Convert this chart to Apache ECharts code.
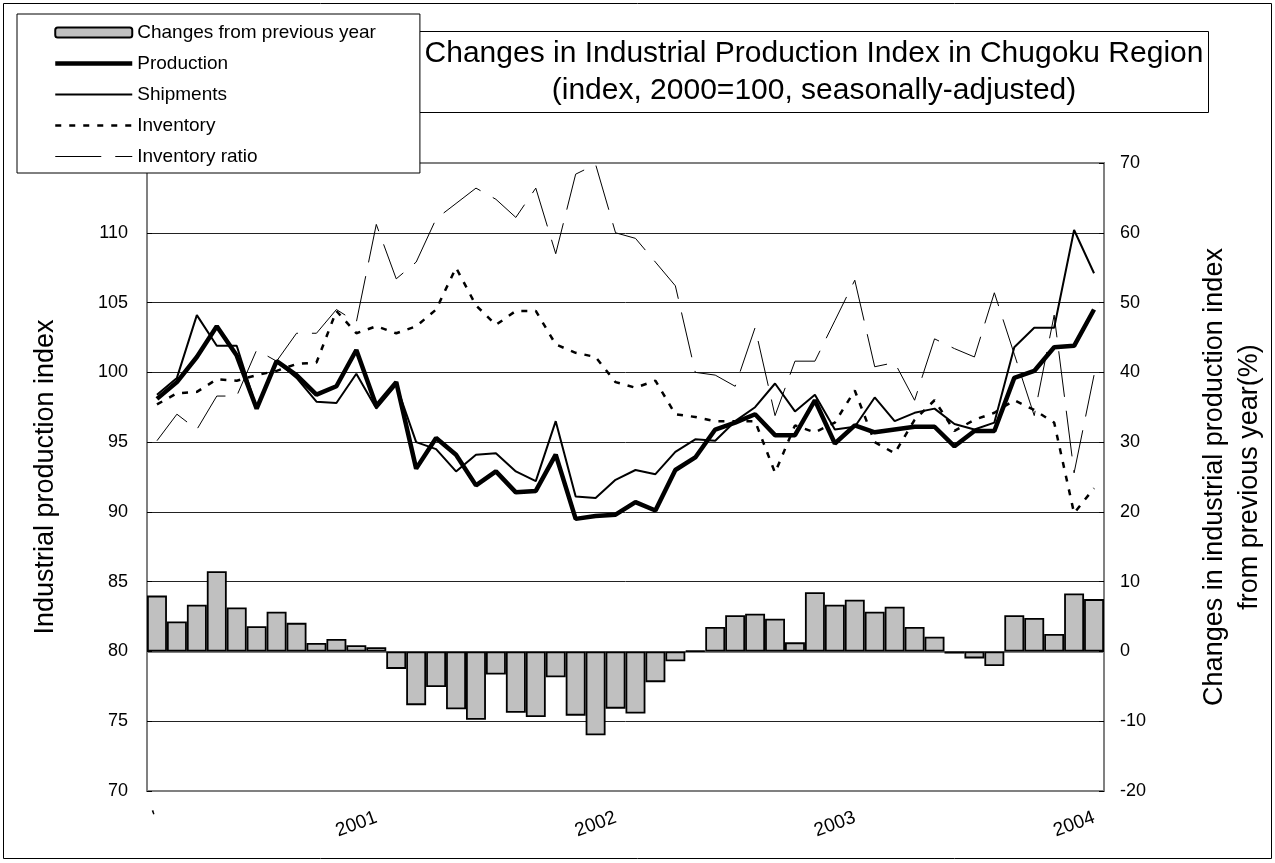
<!DOCTYPE html>
<html>
<head>
<meta charset="utf-8">
<title>Industrial Production Index in Chugoku Region</title>
<script src="https://cdn.jsdelivr.net/npm/echarts@6.0.0/dist/echarts.min.js"></script>
<style>
  html, body { margin: 0; padding: 0; background: #fff; }
  #chart { width: 1275px; height: 863px; }
</style>
</head>
<body>
<div id="chart"></div>
<script>
// monthly, Feb 2000 - Jan 2004
var months = [
  '2000-02','2000-03','2000-04','2000-05','2000-06','2000-07','2000-08','2000-09','2000-10','2000-11','2000-12','2001-01',
  '2001-02','2001-03','2001-04','2001-05','2001-06','2001-07','2001-08','2001-09','2001-10','2001-11','2001-12','2002-01',
  '2002-02','2002-03','2002-04','2002-05','2002-06','2002-07','2002-08','2002-09','2002-10','2002-11','2002-12','2003-01',
  '2003-02','2003-03','2003-04','2003-05','2003-06','2003-07','2003-08','2003-09','2003-10','2003-11','2003-12','2004-01'
];
var tickIndex = [0, 11, 23, 35, 47];
var tickLabels = ["'", '2001', '2002', '2003', '2004'];

// changes from previous year (%), right axis
var yoyChange = [8.0, 4.3, 6.7, 11.5, 6.3, 3.6, 5.7, 4.1, 1.2, 1.8, 0.9, 0.6,
  -2.5, -7.7, -5.1, -8.3, -9.8, -3.3, -8.8, -9.4, -3.7, -9.2, -12.0, -8.2,
  -8.9, -4.4, -1.4, 0.1, 3.5, 5.2, 5.4, 4.7, 1.3, 8.5, 6.7, 7.4,
  5.7, 6.4, 3.5, 2.1, -0.3, -1.0, -2.1, 5.2, 4.8, 2.5, 8.3, 7.5];

var production = [98.1, 99.3, 101.1, 103.3, 101.2, 97.4, 100.8, 99.8, 98.4, 99.0, 101.6, 97.6,
  99.3, 93.1, 95.3, 94.1, 91.9, 92.9, 91.4, 91.5, 94.1, 89.5, 89.7, 89.8,
  90.7, 90.1, 93.0, 93.9, 95.9, 96.4, 97.0, 95.5, 95.5, 98.0, 94.9, 96.2,
  95.7, 95.9, 96.1, 96.1, 94.7, 95.8, 95.8, 99.6, 100.1, 101.8, 101.9, 104.5];

var shipments = [98.4, 99.6, 104.1, 101.9, 101.9, 97.4, 100.8, 99.6, 97.9, 97.8, 99.9, 97.4,
  99.1, 95.0, 94.5, 92.9, 94.1, 94.2, 92.9, 92.2, 96.5, 91.1, 91.0, 92.3,
  93.0, 92.7, 94.3, 95.2, 95.1, 96.5, 97.5, 99.2, 97.2, 98.4, 95.9, 96.1,
  98.2, 96.5, 97.1, 97.4, 96.3, 95.9, 96.4, 101.8, 103.2, 103.2, 110.2, 107.1];

var inventory = [97.7, 98.5, 98.6, 99.5, 99.4, 99.8, 100.1, 100.6, 100.7, 104.4, 102.8, 103.3,
  102.8, 103.3, 104.5, 107.5, 104.8, 103.4, 104.4, 104.4, 102.0, 101.4, 101.1, 99.3,
  98.9, 99.4, 97.0, 96.8, 96.5, 96.5, 96.5, 92.8, 96.2, 95.7, 96.4, 98.7,
  95.0, 94.2, 96.6, 98.0, 95.8, 96.6, 97.1, 98.0, 97.3, 96.4, 89.9, 91.7];

var inventoryRatio = [95.1, 97.0, 95.9, 98.3, 98.3, 101.6, 100.8, 102.8, 102.8, 104.5, 103.6, 110.6,
  106.7, 107.9, 111.0, 112.1, 113.2, 112.4, 111.1, 113.2, 108.5, 114.2, 114.9, 110.0,
  109.6, 107.9, 106.2, 100.0, 99.8, 99.0, 103.2, 96.9, 100.8, 100.8, 103.7, 106.6,
  100.4, 100.7, 98.0, 102.4, 101.7, 101.1, 105.7, 101.3, 96.9, 104.1, 92.8, 99.8];

var font = 'Liberation Sans, Arial, sans-serif';
var chart = echarts.init(document.getElementById('chart'), null, { renderer: 'canvas' });

// legend rows for the line series: hide the marker dot, keep the real widths
var noDot = { opacity: 0 };

var option = {
  animation: false,
  backgroundColor: '#fff',
  textStyle: { fontFamily: font, color: '#000' },
  title: {
    text: 'Changes in Industrial Production Index in Chugoku Region\n(index, 2000=100, seasonally-adjusted)',
    left: 809,
    top: 31,
    textAlign: 'center',
    padding: [4, 5, 4, 5],
    borderColor: '#000',
    borderWidth: 1,
    backgroundColor: '#fff',
    textStyle: { fontFamily: font, fontSize: 30, fontWeight: 'normal', color: '#000', lineHeight: 37 }
  },
  graphic: [{
    type: 'rect',
    shape: { x: 3.5, y: 3.5, width: 1268, height: 855 },
    style: { fill: null, stroke: '#000', lineWidth: 1 },
    silent: true
  }],
  legend: {
    orient: 'vertical',
    left: 17,
    top: 14,
    padding: [9, 44, 7, 36],
    itemGap: 12,
    itemWidth: 77,
    itemHeight: 10,
    backgroundColor: '#fff',
    borderColor: '#000',
    borderWidth: 1,
    z: 10,
    textStyle: { fontFamily: font, fontSize: 19, color: '#000' },
    data: [
      { name: 'Changes from previous year', itemStyle: { borderWidth: 2 } },
      { name: 'Production', itemStyle: noDot, lineStyle: { width: 4.5 } },
      { name: 'Shipments', itemStyle: noDot, lineStyle: { width: 2 } },
      { name: 'Inventory', itemStyle: noDot, lineStyle: { width: 2.5 } },
      { name: 'Inventory ratio', itemStyle: noDot, lineStyle: { width: 1 } }
    ]
  },
  grid: {
    left: 147, right: 168, top: 163, bottom: 72,
    show: true, borderColor: '#808080', borderWidth: 2
  },
  xAxis: {
    type: 'category',
    data: months,
    boundaryGap: true,
    axisLine: { lineStyle: { color: '#808080', width: 2 } },
    axisTick: { show: false },
    axisLabel: {
      rotate: 20,
      margin: 26,
      fontSize: 19,
      color: '#000',
      fontFamily: font,
      interval: function (idx) { return tickIndex.indexOf(idx) >= 0; },
      formatter: function (val, idx) {
        var k = tickIndex.indexOf(idx);
        return k >= 0 ? tickLabels[k] : '';
      }
    },
    splitLine: { show: false }
  },
  yAxis: [{
    type: 'value',
    min: 70, max: 115, interval: 5,
    name: 'Industrial production index',
    nameLocation: 'middle',
    nameRotate: 90,
    nameGap: 88,
    nameTextStyle: { fontFamily: font, fontSize: 27, color: '#000' },
    axisLine: { show: true, lineStyle: { color: '#808080', width: 2 } },
    axisTick: { show: true, inside: true, length: 5, lineStyle: { color: '#000' } },
    axisLabel: { fontSize: 18, color: '#000', margin: 19, showMaxLabel: false, fontFamily: font },
    splitLine: { show: true, showMinLine: false, showMaxLine: false, lineStyle: { color: '#222', width: 1 } }
  }, {
    type: 'value',
    min: -20, max: 70, interval: 10,
    position: 'right',
    name: 'Changes in industrial production index\nfrom previous year(%)',
    nameLocation: 'middle',
    nameRotate: 90,
    nameGap: 93,
    nameTextStyle: { fontFamily: font, fontSize: 27, color: '#000', lineHeight: 35, align: 'center' },
    axisLine: { show: true, lineStyle: { color: '#808080', width: 2 } },
    axisTick: { show: true, inside: true, length: 5, lineStyle: { color: '#000' } },
    axisLabel: { fontSize: 18, color: '#000', margin: 16, fontFamily: font },
    splitLine: { show: false }
  }],
  series: [{
    name: 'Changes from previous year',
    type: 'bar',
    yAxisIndex: 1,
    data: yoyChange,
    barCategoryGap: '0%',
    itemStyle: { color: '#c0c0c0', borderColor: '#000', borderWidth: 1.8 },
    z: 2
  }, {
    name: 'Production',
    type: 'line',
    data: production,
    symbol: 'none',
    itemStyle: { color: '#000' },
    lineStyle: { color: '#000', width: 4.5 },
    z: 6
  }, {
    name: 'Shipments',
    type: 'line',
    data: shipments,
    symbol: 'none',
    itemStyle: { color: '#000' },
    lineStyle: { color: '#000', width: 2 },
    z: 5
  }, {
    name: 'Inventory',
    type: 'line',
    data: inventory,
    symbol: 'none',
    itemStyle: { color: '#000' },
    lineStyle: { color: '#000', width: 2.5, type: [6, 8] },
    z: 4
  }, {
    name: 'Inventory ratio',
    type: 'line',
    data: inventoryRatio,
    symbol: 'none',
    itemStyle: { color: '#000' },
    lineStyle: { color: '#000', width: 1, type: [46, 14] },
    z: 3
  }]
};
chart.setOption(option);
</script>
</body>
</html>
